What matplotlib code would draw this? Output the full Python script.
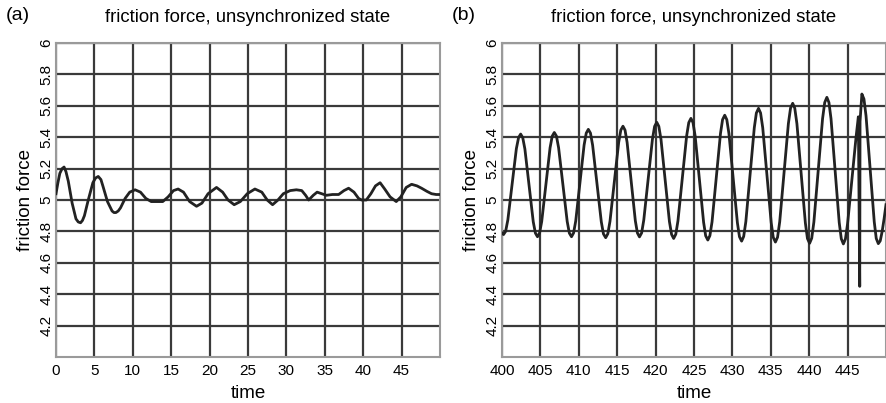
import matplotlib
matplotlib.use("Agg")
import matplotlib.pyplot as plt

plt.rcParams['font.family'] = ['Liberation Sans', 'DejaVu Sans']

# Panel (a): time 0..50
time_a = [0.0, 0.25, 0.5, 0.8, 1.05, 1.3, 1.6, 2.1, 2.6, 2.9, 3.2, 3.45, 3.7, 4.2, 4.8,
          5.15, 5.5, 5.85, 6.1, 6.7, 7.3, 7.55, 7.8, 8.1,
          8.4, 9.0, 9.6, 10.3, 11.0, 11.7, 12.4, 13.2, 13.9, 14.6, 15.3, 15.9, 16.6,
          17.4, 18.3, 19.0, 19.8, 20.9, 21.7, 22.4, 23.2, 24.0, 24.9, 25.9, 26.8, 27.5,
          28.2, 28.9, 29.6, 30.5, 31.3, 32.0, 32.5, 32.9, 33.5, 34.0, 34.6, 35.2, 36.0,
          36.8, 37.5, 38.1, 38.8, 39.4, 39.8, 40.4, 41.0, 41.6, 42.2, 42.8, 43.5, 44.3,
          44.9, 45.6, 46.3, 47.0, 47.6, 48.3, 48.9, 49.5, 50.0]
force_a = [5.04, 5.11, 5.17, 5.20, 5.21, 5.18, 5.12, 4.98, 4.88, 4.86, 4.855, 4.87, 4.90,
           5.00, 5.11, 5.14, 5.15, 5.13, 5.09, 4.99, 4.93, 4.92, 4.92, 4.93,
           4.95, 5.01, 5.05, 5.065, 5.05, 5.01, 4.99, 4.99, 4.99, 5.02, 5.06,
           5.07, 5.05, 4.99, 4.96, 4.98, 5.04, 5.08, 5.05, 5.00, 4.97, 4.99, 5.04, 5.07,
           5.05, 5.00, 4.97, 5.00, 5.04, 5.06, 5.065, 5.06, 5.03, 5.00, 5.03, 5.05, 5.04,
           5.03, 5.035, 5.035, 5.06, 5.075, 5.05, 5.01, 5.00, 5.00, 5.04, 5.09, 5.11, 5.07,
           5.02, 4.99, 5.02, 5.08, 5.10, 5.09, 5.075, 5.055, 5.04, 5.035, 5.035]

# Panel (b): time 400..450
time_b = [400.0, 400.2, 400.47, 400.76, 401.32, 401.87, 402.16, 402.43, 402.7, 402.98,
          403.53, 404.07, 404.35, 404.62, 404.89, 405.17, 405.72, 406.26, 406.54, 406.81,
          407.09, 407.37, 407.93, 408.49, 408.77, 409.05, 409.32, 409.6, 410.15, 410.69,
          410.97, 411.24, 411.52, 411.8, 412.37, 412.93, 413.21, 413.5, 413.78, 414.06,
          414.63, 415.19, 415.47, 415.75, 416.02, 416.29, 416.83, 417.36, 417.63, 417.9,
          418.18, 418.46, 419.03, 419.59, 419.87, 420.15, 420.42, 420.7, 421.25, 421.8,
          422.08, 422.35, 422.63, 422.91, 423.48, 424.04, 424.32, 424.6, 424.87, 425.15,
          425.7, 426.25, 426.52, 426.8, 427.07, 427.35, 427.9, 428.45, 428.72, 429.0,
          429.27, 429.55, 430.1, 430.65, 430.92, 431.2, 431.47, 431.75, 432.3, 432.85,
          433.12, 433.4, 433.67, 433.95, 434.5, 435.05, 435.32, 435.6, 435.88, 436.16,
          436.73, 437.29, 437.57, 437.85, 438.12, 438.4, 438.95, 439.5, 439.77, 440.05,
          440.33, 440.61, 441.18, 441.74, 442.02, 442.3, 442.57, 442.84, 443.38, 443.91,
          444.18, 444.45, 444.72, 445.0, 445.6, 446.1, 446.4, 446.58, 446.62, 446.86,
          447.13, 447.4, 447.93, 448.47, 448.73, 449.0, 449.25, 449.5, 449.75, 450.0]
force_b = [4.79, 4.78, 4.80, 4.873, 5.10, 5.327, 5.398, 5.42, 5.397, 5.325,
           5.093, 4.861, 4.789, 4.766, 4.789, 4.863, 5.098, 5.333, 5.407, 5.43,
           5.407, 5.333, 5.098, 4.863, 4.789, 4.766, 4.79, 4.866, 5.108, 5.35,
           5.426, 5.45, 5.426, 5.349, 5.105, 4.861, 4.784, 4.76, 4.785, 4.864,
           5.115, 5.366, 5.445, 5.47, 5.445, 5.367, 5.118, 4.868, 4.79, 4.765,
           4.79, 4.872, 5.13, 5.388, 5.469, 5.495, 5.469, 5.387, 5.125, 4.863,
           4.781, 4.755, 4.782, 4.867, 5.138, 5.408, 5.493, 5.52, 5.493, 5.407,
           5.133, 4.858, 4.772, 4.745, 4.773, 4.861, 5.143, 5.424, 5.512, 5.54,
           5.512, 5.423, 5.139, 4.855, 4.766, 4.738, 4.768, 4.862, 5.161, 5.46,
           5.554, 5.584, 5.554, 5.46, 5.158, 4.856, 4.762, 4.732, 4.763, 4.861,
           5.174, 5.487, 5.585, 5.616, 5.585, 5.486, 5.17, 4.854, 4.755, 4.724,
           4.757, 4.86, 5.189, 5.518, 5.621, 5.654, 5.621, 5.518, 5.187, 4.856,
           4.753, 4.72, 4.752, 4.85, 5.15, 5.40, 5.53, 4.45, 5.50, 5.675,
           5.643, 5.536, 5.20, 4.861, 4.755, 4.722, 4.74, 4.80, 4.88, 4.97]

y_ticks = [4.2, 4.4, 4.6, 4.8, 5.0, 5.2, 5.4, 5.6, 5.8, 6.0]
y_labels = ['4.2', '4.4', '4.6', '4.8', '5', '5.2', '5.4', '5.6', '5.8', '6']
x_ticks_a = [0, 5, 10, 15, 20, 25, 30, 35, 40, 45]
x_ticks_b = [400, 405, 410, 415, 420, 425, 430, 435, 440, 445]
title = 'friction force, unsynchronized state'

W, H = 886, 403
fig = plt.figure(figsize=(W / 100, H / 100), dpi=100)

def make_axes(left_px, t, f, xt, xlim, tag, tag_x):
    ax = fig.add_axes([left_px / W, 1 - 357 / H, 384 / W, 314 / H])
    ax.set_xlim(*xlim)
    ax.set_ylim(4.0, 6.0)
    ax.set_xticks(xt)
    ax.set_xticklabels([str(v) for v in xt], fontsize=11)
    ax.set_yticks(y_ticks)
    ax.set_yticklabels(y_labels, fontsize=11, rotation=90, va='center')
    ax.tick_params(length=0)
    ax.tick_params(axis='x', pad=5)
    ax.tick_params(axis='y', pad=2)
    ax.grid(True, color='#3a3a3a', linewidth=1.6)
    ax.set_axisbelow(True)
    for s in ax.spines.values():
        s.set_color('#9a9a9a')
        s.set_linewidth(1.5)
    ax.plot(t, f, color='#222222', linewidth=2.0, zorder=3, clip_on=True,
            solid_joinstyle='round')
    ax.set_xlabel('time', fontsize=13.5, labelpad=5)
    ax.set_ylabel('friction force', fontsize=13.5, labelpad=4)
    fig.text(0.5 * (left_px + left_px + 384) / W, 1 - 18 / H, title,
             ha='center', va='center', fontsize=13.3)
    fig.text(tag_x / W, 1 - 16 / H, tag, ha='left', va='center', fontsize=14)
    return ax

make_axes(56, time_a, force_a, x_ticks_a, (0, 50), '(a)', 6)
make_axes(502, time_b, force_b, x_ticks_b, (400, 450), '(b)', 452)

fig.savefig('out.png', dpi=100)
